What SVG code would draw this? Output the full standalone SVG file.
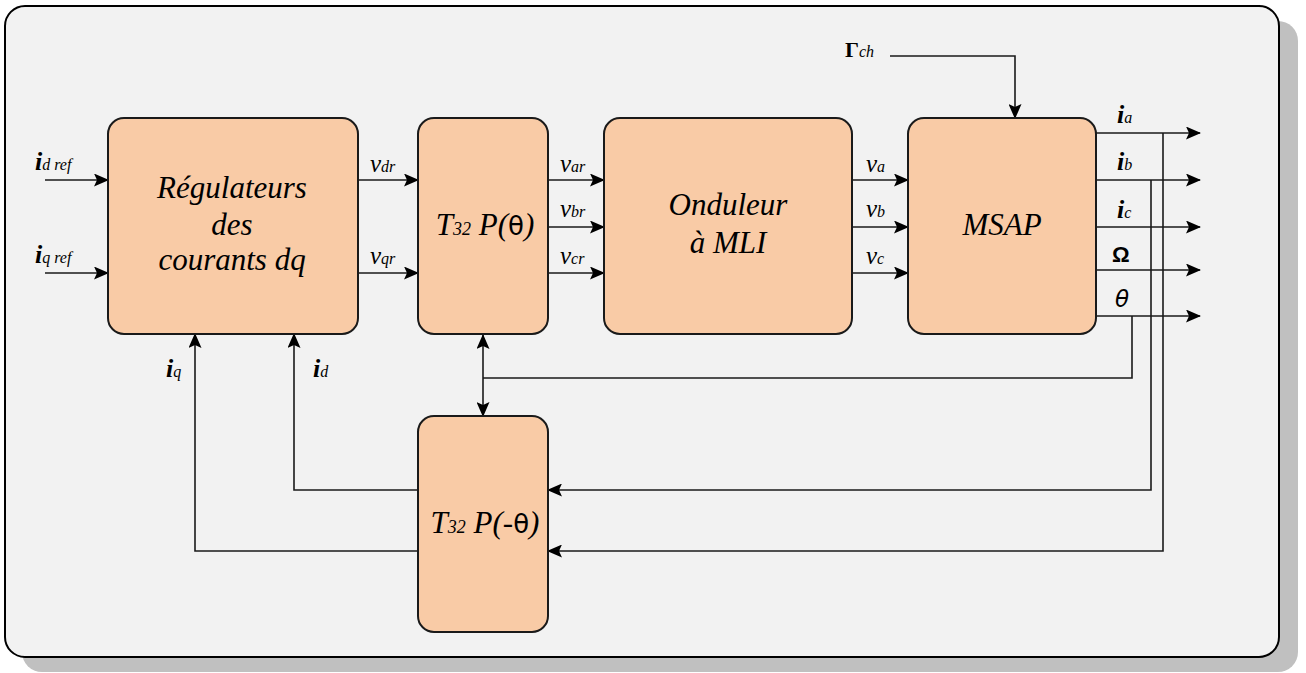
<svg xmlns="http://www.w3.org/2000/svg" width="1306" height="673" viewBox="0 0 1306 673">
<defs>
<marker id="ah" markerUnits="userSpaceOnUse" markerWidth="15" markerHeight="13" refX="14" refY="6.5" orient="auto-start-reverse" viewBox="0 0 15 13">
<path d="M0,0 L15,6.5 L0,13 L3,6.5 z" fill="#000"/>
</marker>
<style>
.blk{fill:#f9cba6;stroke:#1a1a1a;stroke-width:2}
.ln{fill:none;stroke:#1a1a1a;stroke-width:1.6}
.ar{fill:none;stroke:#1a1a1a;stroke-width:1.6;marker-end:url(#ah)}
.bt{font-family:"Liberation Serif",serif;font-style:italic;font-size:31px;fill:#000;text-anchor:middle}
.lb{font-family:"Liberation Serif",serif;font-style:italic;font-size:25px;fill:#000}
.sub{font-size:16px}
.bi{font-weight:bold}
</style>
</defs>
<rect x="22" y="21" width="1276" height="651" rx="20" fill="#c0c0c0"/>
<rect x="5" y="6" width="1274" height="651" rx="20" fill="#f2f2f2" stroke="#000" stroke-width="2"/>

<g id="connectors">
<path class="ar" d="M45,180 H108"/>
<path class="ar" d="M45,273 H108"/>
<path class="ar" d="M358,180 H418"/>
<path class="ar" d="M358,273 H418"/>
<path class="ar" d="M548,180 H604"/>
<path class="ar" d="M548,227 H604"/>
<path class="ar" d="M548,273 H604"/>
<path class="ar" d="M852,180 H908"/>
<path class="ar" d="M852,227 H908"/>
<path class="ar" d="M852,273 H908"/>
<path class="ar" d="M890,56 H1015 V118"/>
<path class="ar" d="M1096,133 H1200"/>
<path class="ar" d="M1096,180 H1200"/>
<path class="ar" d="M1096,227 H1200"/>
<path class="ar" d="M1096,270 H1200"/>
<path class="ar" d="M1096,316 H1200"/>
<path class="ar" d="M1163,133 V551 H548"/>
<path class="ar" d="M1151,180 V490 H548"/>
<path class="ln" d="M1132,316 V378 H483"/>
<path class="ar" d="M483,378 V335"/>
<path class="ar" d="M483,378 V416"/>
<path class="ar" d="M418,490 H294 V334"/>
<path class="ar" d="M418,551 H195 V334"/>
</g>

<g id="regulateurs">
<rect class="blk" x="108" y="118" width="250" height="216" rx="16"/>
<text class="bt" x="232" y="198">Régulateurs</text>
<text class="bt" x="232" y="235">des</text>
<text class="bt" x="232" y="270">courants dq</text>
</g>
<g id="park">
<rect class="blk" x="418" y="118" width="130" height="216" rx="16"/>
<text class="bt" x="485" y="235" font-size="28"><tspan>T</tspan><tspan font-size="18">32</tspan><tspan> P(</tspan><tspan font-family="DejaVu Sans" font-style="normal" font-size="26">θ</tspan><tspan>)</tspan></text>
</g>
<g id="onduleur">
<rect class="blk" x="604" y="118" width="248" height="216" rx="16"/>
<text class="bt" x="728" y="215">Onduleur</text>
<text class="bt" x="728" y="253">à MLI</text>
</g>
<g id="msap">
<rect class="blk" x="908" y="118" width="188" height="216" rx="16"/>
<text class="bt" x="1002" y="235" font-size="32">MSAP</text>
</g>
<g id="parkinv">
<rect class="blk" x="418" y="416" width="130" height="216" rx="16"/>
<text class="bt" x="485" y="533" font-size="28"><tspan>T</tspan><tspan font-size="18">32</tspan><tspan> P(-</tspan><tspan font-family="DejaVu Sans" font-style="normal" font-size="26">θ</tspan><tspan>)</tspan></text>
</g>

<g id="labels">
<text class="lb" x="35" y="170"><tspan class="bi" font-size="26">i</tspan><tspan class="sub" font-size="17">d ref</tspan></text>
<text class="lb" x="35" y="263"><tspan class="bi" font-size="26">i</tspan><tspan class="sub" font-size="17">q ref</tspan></text>
<text class="lb" x="370" y="172"><tspan>v</tspan><tspan class="sub">dr</tspan></text>
<text class="lb" x="370" y="264"><tspan>v</tspan><tspan class="sub">qr</tspan></text>
<text class="lb" x="560" y="172"><tspan>v</tspan><tspan class="sub">ar</tspan></text>
<text class="lb" x="560" y="217"><tspan>v</tspan><tspan class="sub">br</tspan></text>
<text class="lb" x="560" y="264"><tspan>v</tspan><tspan class="sub">cr</tspan></text>
<text class="lb" x="866" y="172"><tspan>v</tspan><tspan class="sub">a</tspan></text>
<text class="lb" x="866" y="217"><tspan>v</tspan><tspan class="sub">b</tspan></text>
<text class="lb" x="866" y="264"><tspan>v</tspan><tspan class="sub">c</tspan></text>
<text class="lb" x="845" y="57"><tspan class="bi" font-style="normal" font-size="22">Γ</tspan><tspan class="sub">ch</tspan></text>
<text class="lb" x="1117" y="123"><tspan class="bi" font-size="26">i</tspan><tspan class="sub">a</tspan></text>
<text class="lb" x="1117" y="170"><tspan class="bi" font-size="26">i</tspan><tspan class="sub">b</tspan></text>
<text class="lb" x="1117" y="218"><tspan class="bi" font-size="26">i</tspan><tspan class="sub">c</tspan></text>
<text x="1112" y="262" font-family="Liberation Sans, sans-serif" font-weight="bold" font-size="22">Ω</text>
<text x="1115" y="307" font-family="DejaVu Sans, sans-serif" font-style="italic" font-size="23">θ</text>
<text class="lb" x="166" y="377"><tspan class="bi" font-size="26">i</tspan><tspan class="sub">q</tspan></text>
<text class="lb" x="313" y="377"><tspan class="bi" font-size="26">i</tspan><tspan class="sub">d</tspan></text>
</g>
</svg>
